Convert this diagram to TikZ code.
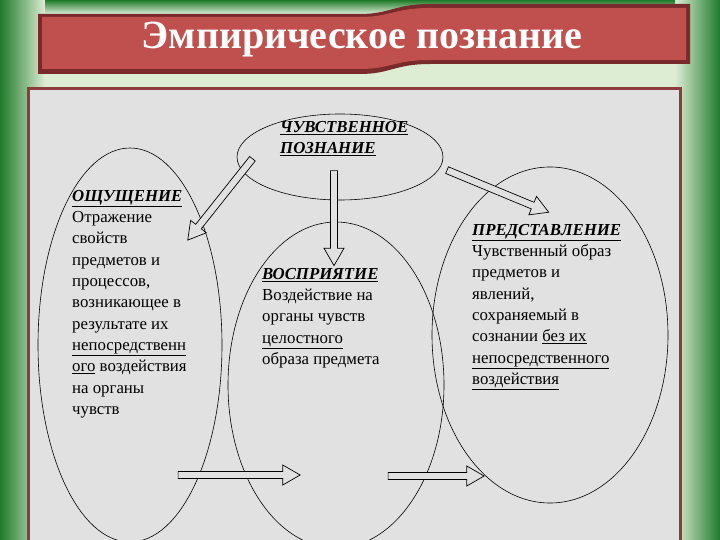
\documentclass[tikz,border=0pt]{standalone}
\usepackage{fontspec}
\setmainfont{Liberation Serif}
\usetikzlibrary{shapes.arrows}
\definecolor{dgreen}{HTML}{1F7A2A}
\definecolor{lgreen}{HTML}{DCEDD4}
\definecolor{bannerred}{HTML}{C0504D}
\definecolor{bannerdark}{HTML}{7A2A2A}
\definecolor{panelgray}{HTML}{E1E1E1}
\definecolor{panelborder}{HTML}{8E3B3B}
\tikzset{
  oval/.style={draw=black, line width=0.6pt},
  txt/.style={anchor=north west, align=left, inner sep=0pt, font=\fontsize{16.8}{21.3}\selectfont},
  harrow/.style={single arrow, draw=black, fill=panelgray, line width=0.7pt, minimum height=#1, minimum width=20pt, single arrow head extend=6pt, single arrow tip angle=60, inner sep=3pt},
}
\newcommand{\hd}[1]{\textbf{\textit{\underline{#1}}}}
\begin{document}
\begin{tikzpicture}[x=1pt,y=-1pt]
\useasboundingbox (0,0) rectangle (720,540);
% background
\fill[dgreen] (0,0) rectangle (720,540);
\shade[left color=dgreen, right color=lgreen] (0,0) rectangle (45,540);
\shade[left color=lgreen, right color=dgreen] (675,0) rectangle (720,540);
\fill[lgreen] (45,0) rectangle (675,540);
\shade[top color=dgreen, bottom color=lgreen] (45,0) rectangle (675,14);
% banner
\fill[bannerdark] (38,14) -- (360,14) .. controls (390,14) and (395,4) .. (430,4) -- (690,4) -- (690,64) -- (430,64) .. controls (395,64) and (390,74) .. (360,74) -- (38,74) -- cycle;
\fill[bannerred] (42,17) -- (360,17) .. controls (390,17) and (395,8) .. (430,8) -- (686,8) -- (686,60) -- (430,60) .. controls (395,60) and (390,69) .. (360,69) -- (42,69) -- cycle;
\node[text=white, font=\fontsize{40}{44}\selectfont\bfseries] (title) at (362,40) {Эмпирическое познание};
% panel
\draw[fill=panelgray, draw=panelborder, line width=3pt] (28,89) rectangle (680,545);
% ellipses
\draw[oval] (130,345) ellipse [x radius=92, y radius=197];
\draw[oval] (336,385) ellipse [x radius=108, y radius=163];
\draw[oval] (550,335) ellipse [x radius=118, y radius=168];
\draw[oval] (340,157) ellipse [x radius=103, y radius=43];
% arrows
\node[harrow=104pt, rotate=-128.5] (a1) at (222,197) {};
\node[harrow=95pt, rotate=-90] (a2) at (334,215) {};
\node[harrow=110pt, rotate=-22.5] (a3) at (495,190) {};
\node[harrow=122pt] (a4) at (236,475) {};
\node[harrow=96pt] (a5) at (433,476) {};
% texts
\node[txt] (t1) at (280,121) {\hd{ЧУВСТВЕННОЕ}\\\hd{ПОЗНАНИЕ}};
\node[txt] (t2) at (72,190) {\hd{ОЩУЩЕНИЕ}\\Отражение\\свойств\\предметов и\\процессов,\\возникающее в\\результате их\\\underline{непосредственн}\\\underline{ого} воздействия\\на органы\\чувств};
\node[txt] (t3) at (262,268) {\hd{ВОСПРИЯТИЕ}\\Воздействие на\\органы чувств\\\underline{целостного}\\образа предмета};
\node[txt] (t4) at (472,224) {\hd{ПРЕДСТАВЛЕНИЕ}\\Чувственный образ\\предметов и\\явлений,\\сохраняемый в\\сознании \underline{без их}\\\underline{непосредственного}\\\underline{воздействия}};
\end{tikzpicture}
\end{document}
